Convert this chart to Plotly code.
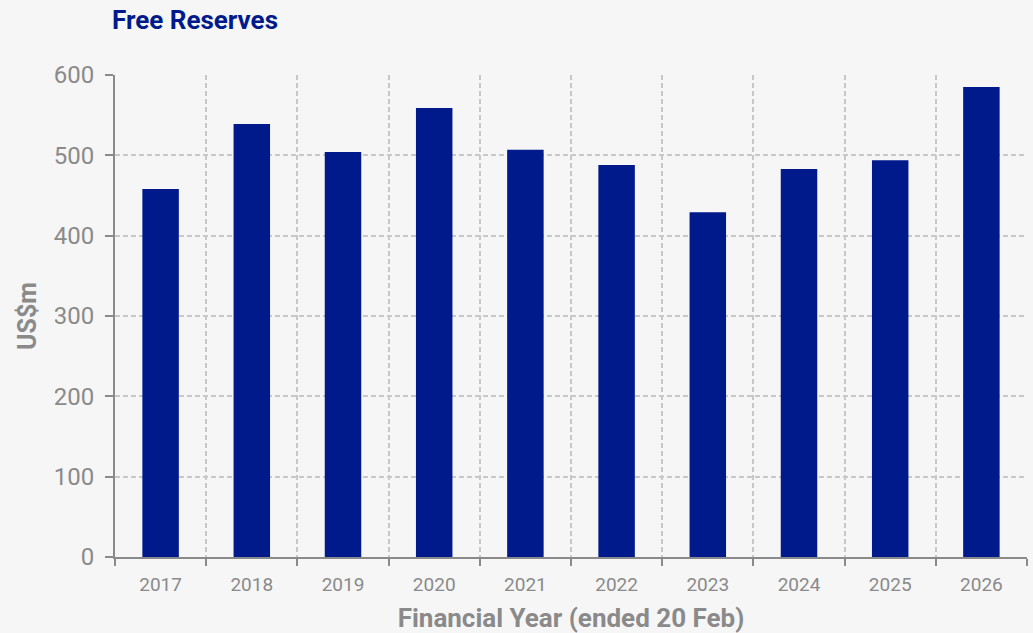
import plotly.graph_objects as go

years = ["2017", "2018", "2019", "2020", "2021", "2022", "2023", "2024", "2025", "2026"]
free_reserves = [458, 539, 504, 559, 507, 488, 429, 483, 494, 585]
y_ticks = [0, 100, 200, 300, 400, 500, 600]

fig = go.Figure(go.Bar(
    x=years, y=free_reserves,
    marker=dict(color="#001a8c", line=dict(width=0)),
))

grey = "#8a8a8a"
grid = "#c8c8c8"
fig.update_layout(
    width=1033, height=633,
    paper_bgcolor="#f6f6f6", plot_bgcolor="#f6f6f6",
    margin=dict(l=115, r=6, t=75, b=76, autoexpand=False),
    bargap=0.6,
    showlegend=False,
    font=dict(family="Roboto", color=grey),
    title=dict(text="<b>Free Reserves</b>", font=dict(size=26, color="#001a8c", family="Roboto"),
               x=112/1033, xanchor="left", xref="container", y=1-20/633, yanchor="middle", yref="container"),
    xaxis=dict(
        type="category", tickson="boundaries", automargin=False,
        showgrid=True, gridcolor=grid, griddash="5px,3px", gridwidth=1.5,
        showline=True, linecolor=grey, linewidth=2,
        ticks="outside", ticklen=7, tickwidth=2, tickcolor=grey,
        tickfont=dict(size=19, color=grey), ticklabelstandoff=9,
        title=dict(text="<b>Financial Year (ended 20 Feb)</b>", font=dict(size=26, color=grey), standoff=15),
    ),
    yaxis=dict(
        range=[0, 600], tickvals=y_ticks, automargin=False,
        showgrid=True, gridcolor=grid, griddash="5px,3px", gridwidth=1.5,
        zeroline=False,
        showline=True, linecolor=grey, linewidth=2,
        ticks="outside", ticklen=8, tickwidth=2, tickcolor=grey,
        tickfont=dict(size=24, color=grey), ticklabelstandoff=6,
        title=dict(text="<b>US$m</b>", font=dict(size=25, color=grey), standoff=10),
    ),
)

fig.write_html("out.html")
